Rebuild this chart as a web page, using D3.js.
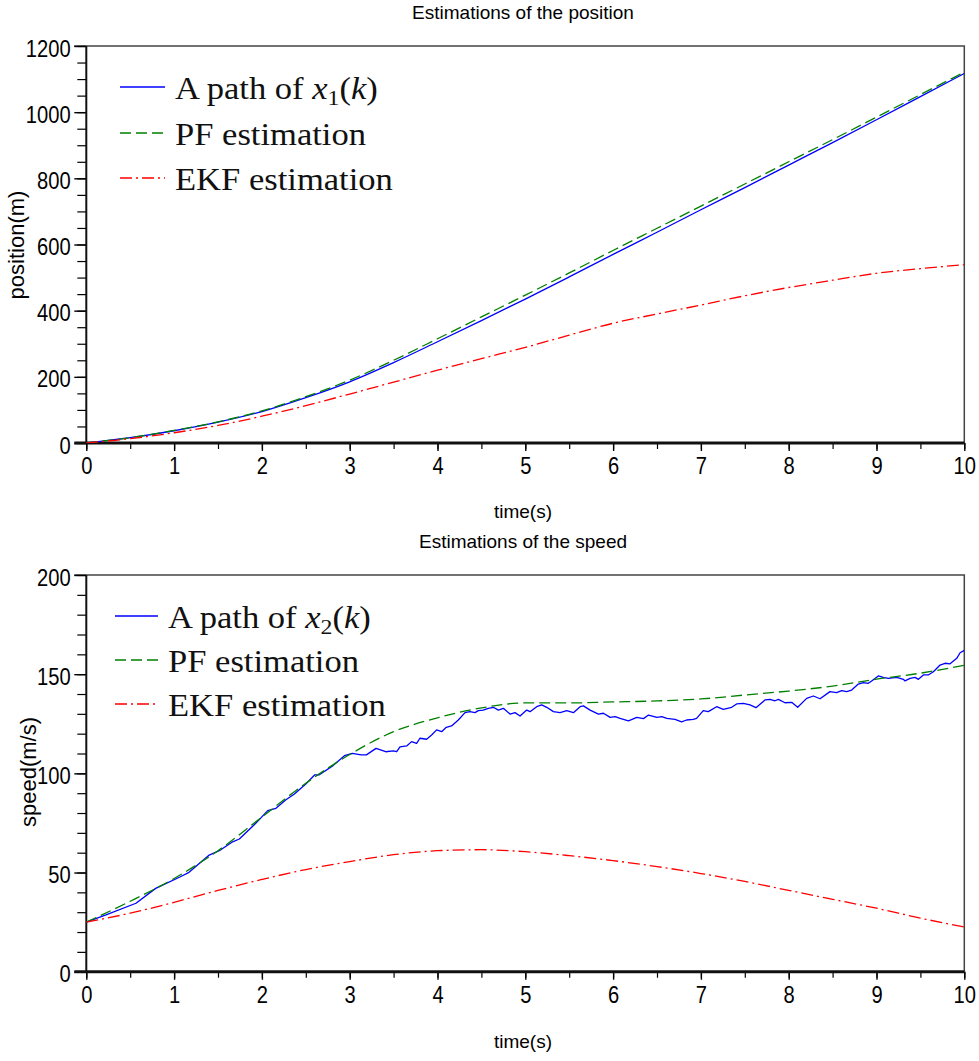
<!DOCTYPE html>
<html>
<head>
<meta charset="utf-8">
<script src="https://cdn.jsdelivr.net/npm/d3@7"></script>
<style>
  body { margin: 0; background: #fff; }
  svg { display: block; }
</style>
</head>
<body>
<svg id="chart" width="979" height="1061"></svg>
<script>
// ---- data ----
const timeGrid = [0, 0.5, 1, 1.5, 2, 2.5, 3, 3.5, 4, 4.5, 5, 5.5, 6, 6.5, 7, 7.5, 8, 8.5, 9, 9.5, 10];

// position (m)
const posPath = [0, 16, 37, 63, 95, 137, 185, 243, 306, 370, 435, 502, 570, 637, 705, 772, 840, 908, 977, 1047, 1117];
const posPF   = [0, 16, 38, 64, 97, 140, 190, 250, 315, 381, 447, 514, 582, 649, 716, 783, 850, 917, 985, 1053, 1121];
const posEKF  = [0, 13, 31, 53, 81, 113, 148, 184, 220, 255, 289, 326, 362, 390, 417, 445, 470, 492, 513, 527, 539];

// speed (m/s)
const speedPF  = [25, 35.5, 47, 61, 78, 95, 109.5, 121, 128, 133, 135.5, 135.5, 136, 136.5, 137.5, 139.5, 141.5, 144, 147.5, 150.5, 154.5];
const speedEKF = [25, 29.5, 35, 41, 46.5, 51.5, 55.5, 59, 61, 61.5, 60.5, 58.5, 56, 53, 49.5, 45.5, 41, 36.5, 32, 27, 22.5];

const speedPathT = [0, 0.224, 0.566, 0.79, 1.06, 1.17, 1.4, 1.515, 1.667, 1.743, 1.93, 2.066, 2.16, 2.27, 2.37, 2.5,
  2.6, 2.65, 2.81, 2.94, 3.03, 3.13, 3.19, 3.3, 3.41, 3.497, 3.535, 3.573, 3.649, 3.705, 3.762, 3.8, 3.876, 3.933,
  3.99, 4.047, 4.1, 4.16, 4.237, 4.313, 4.37, 4.427, 4.465, 4.52, 4.58, 4.636, 4.693, 4.75, 4.826, 4.883, 4.94,
  5.016, 5.054, 5.13, 5.187, 5.244, 5.32, 5.396, 5.472, 5.548, 5.624, 5.662, 5.738, 5.833, 5.89, 5.966, 6.023,
  6.08, 6.175, 6.27, 6.346, 6.403, 6.498, 6.555, 6.612, 6.705, 6.78, 6.837, 6.913, 6.951, 7.027, 7.084, 7.179,
  7.255, 7.35, 7.407, 7.483, 7.559, 7.627, 7.73, 7.787, 7.844, 7.882, 7.958, 8.034, 8.102, 8.205, 8.281, 8.357,
  8.47, 8.546, 8.603, 8.66, 8.717, 8.793, 8.85, 8.907, 8.945, 9.021, 9.078, 9.135, 9.23, 9.306, 9.325, 9.382,
  9.439, 9.477, 9.534, 9.59, 9.648, 9.724, 9.78, 9.838, 9.914, 9.952, 10];
const speedPathV = [25, 28.6, 34.5, 42, 47.6, 50.1, 58.8, 61, 65.5, 66.9, 74.8, 81.2, 82.4, 86.6, 89.6, 94.6,
  99.2, 99.2, 103.9, 108.9, 110.1, 109.3, 109.3, 112.6, 110.9, 111.3, 110.9, 113.4, 113.8, 116, 115.1, 117.7, 117.2, 119.3,
  121.9, 121, 123.2, 123.9, 126.9, 130.6, 131.1, 130.6, 131.6, 131.9, 132.8, 133.3, 131.9, 132.8, 129.9, 130.6, 128.9,
  131.9, 131.1, 133.6, 134.5, 133.3, 131.1, 130.6, 131.6, 130.6, 133.6, 134, 131.9, 129.9, 130.3, 128.2, 128.6,
  127.7, 126.5, 128.2, 127.6, 129.4, 128.2, 128.6, 127.7, 127.2, 126, 126.9, 127.2, 127.7, 131.6, 131.1, 133.6,
  132.3, 133.3, 135, 135.3, 134.5, 133.1, 137, 137.3, 136.6, 137.3, 135.6, 135.8, 133.3, 137.8, 139, 137.6,
  141.2, 140.7, 141.7, 141.2, 142, 145, 145.7, 145.4, 146.6, 149.1, 148.4, 147.9, 148.4, 147.4, 146.6, 147.9,
  148.4, 147.4, 149.6, 149.6, 151.2, 154.6, 155.5, 155.2, 158, 160.8, 162];

// tick labels
const timeTicks  = [0, 1, 2, 3, 4, 5, 6, 7, 8, 9, 10];
const posTicks   = [0, 200, 400, 600, 800, 1000, 1200];
const speedTicks = [0, 50, 100, 150, 200];

// ---- drawing ----
const svg = d3.select("#chart");
svg.append("rect").attr("width", 979).attr("height", 1061).attr("fill", "#fff");

const SANS = "'Liberation Sans', Arial, sans-serif";
const SERIF = "'Liberation Serif', 'Times New Roman', serif";
const TICK_SCALE = 0.84;

const styles = {
  path: { color: "#0000ff", dash: null, width: 1.3 },
  pf:   { color: "#008000", dash: "11,5", width: 1.3 },
  ekf:  { color: "#ff0000", dash: "12,4,2,4", width: 1.3 }
};

const x = d3.scaleLinear().domain([0, 10]).range([86.3, 964.3]);

function drawPanel(o) {
  const y = d3.scaleLinear().domain(o.domain).range([o.bottom, o.top]);
  const g = svg.append("g");
  const clipId = "clip" + o.id;
  svg.append("clipPath").attr("id", clipId)
    .append("rect").attr("x", x(0)).attr("y", o.top).attr("width", x(10) - x(0)).attr("height", o.bottom - o.top);

  // frame: top and right edges
  g.append("path")
    .attr("d", `M${x(0) - 12},${o.top}H${x(10)}V${o.bottom}`)
    .attr("fill", "none").attr("stroke", "#444").attr("stroke-width", 1.5);

  // minor ticks
  g.append("g").attr("transform", `translate(${x(0)},0)`)
    .call(d3.axisLeft(y).tickValues(d3.range(o.domain[0], o.domain[1] + 1e-9, o.minor)).tickSize(9).tickFormat("").tickSizeOuter(0))
    .call(s => s.select(".domain").remove())
    .selectAll("line").attr("stroke", "#000").attr("stroke-width", 1.2);
  g.append("g").attr("transform", `translate(0,${o.bottom})`)
    .call(d3.axisBottom(x).tickValues(d3.range(0, 10.001, 0.5)).tickSize(6).tickFormat("").tickSizeOuter(0))
    .call(s => s.select(".domain").remove())
    .selectAll("line").attr("stroke", "#000").attr("stroke-width", 1.2);

  // major ticks with labels
  const ya = g.append("g").attr("transform", `translate(${x(0)},0)`)
    .call(d3.axisLeft(y).tickValues(o.ticks).tickSize(12).tickSizeOuter(0).tickFormat(d3.format("d")));
  ya.select(".domain").remove();
  ya.selectAll("line").attr("stroke", "#000").attr("stroke-width", 1.4);
  ya.selectAll("text")
    .attr("font-family", SANS).attr("font-size", 24).attr("fill", "#000")
    .attr("x", -15.6 / TICK_SCALE).attr("dy", "0.42em")
    .attr("transform", `scale(${TICK_SCALE},1)`);

  const xa = g.append("g").attr("transform", `translate(0,${o.bottom})`)
    .call(d3.axisBottom(x).tickValues(timeTicks).tickSize(8).tickSizeOuter(0).tickFormat(d3.format("d")));
  xa.select(".domain").remove();
  xa.selectAll("line").attr("stroke", "#000").attr("stroke-width", 1.4);
  xa.selectAll("text")
    .attr("font-family", SANS).attr("font-size", 24).attr("fill", "#000")
    .attr("y", 31).attr("dy", 0)
    .attr("transform", `scale(${TICK_SCALE},1)`);

  // axis lines
  g.append("line").attr("x1", x(0)).attr("x2", x(0)).attr("y1", o.top).attr("y2", o.bottom)
    .attr("stroke", "#111").attr("stroke-width", 2);
  g.append("line").attr("x1", x(0) - 12).attr("x2", x(10)).attr("y1", o.bottom).attr("y2", o.bottom)
    .attr("stroke", "#111").attr("stroke-width", 3);

  // series
  const plot = g.append("g").attr("clip-path", `url(#${clipId})`);
  o.series.forEach(s => {
    const st = styles[s.key];
    const line = d3.line()
      .x(d => x(d[0])).y(d => y(d[1]))
      .curve(s.smooth ? d3.curveMonotoneX : d3.curveLinear);
    plot.append("path")
      .datum(s.t.map((t, i) => [t, s.v[i]]))
      .attr("d", line)
      .attr("fill", "none")
      .attr("stroke", st.color)
      .attr("stroke-width", st.width)
      .attr("stroke-dasharray", st.dash)
      .attr("stroke-linejoin", "round");
  });

  // legend
  o.legend.rows.forEach((row, i) => {
    const st = styles[row.key];
    const ly = o.legend.y[i];
    g.append("line")
      .attr("x1", o.legend.x0).attr("x2", o.legend.x1).attr("y1", ly).attr("y2", ly)
      .attr("stroke", st.color).attr("stroke-width", st.width).attr("stroke-dasharray", st.dash);
    const t = g.append("text")
      .attr("transform", `translate(${o.legend.tx},${ly + 12}) scale(1.08,1)`)
      .attr("font-family", SERIF).attr("font-size", 32).attr("fill", "#111");
    row.build(t);
  });

  // titles
  g.append("text").attr("x", 523).attr("y", o.titleY)
    .attr("text-anchor", "middle").attr("font-family", SANS).attr("font-size", 19).attr("fill", "#000")
    .text(o.title);
  g.append("text").attr("x", 523).attr("y", o.xLabelY)
    .attr("text-anchor", "middle").attr("font-family", SANS).attr("font-size", 19).attr("fill", "#000")
    .text("time(s)");
  g.append("text")
    .attr("transform", `translate(${o.yLabelX},${o.yLabelCy}) rotate(-90)`)
    .attr("text-anchor", "middle").attr("font-family", SANS).attr("font-size", 22).attr("fill", "#000")
    .text(o.yLabel);
}

function pathLabel(sub) {
  return t => {
    t.append("tspan").text("A path of ");
    t.append("tspan").attr("font-style", "italic").text("x");
    t.append("tspan").attr("font-size", 22).attr("dy", 6).text(sub);
    t.append("tspan").attr("dy", -6).text("(");
    t.append("tspan").attr("font-style", "italic").text("k");
    t.append("tspan").text(")");
  };
}
const plainLabel = s => t => t.text(s);

drawPanel({
  id: "pos",
  top: 46, bottom: 443,
  domain: [0, 1200], minor: 50, ticks: posTicks,
  title: "Estimations of the position", titleY: 19, xLabelY: 518,
  yLabel: "position(m)", yLabelX: 24, yLabelCy: 245,
  series: [
    { key: "path", t: timeGrid, v: posPath, smooth: true },
    { key: "pf", t: timeGrid, v: posPF, smooth: true },
    { key: "ekf", t: timeGrid, v: posEKF, smooth: true }
  ],
  legend: {
    x0: 120, x1: 165, tx: 175, y: [87, 133, 178],
    rows: [
      { key: "path", build: pathLabel("1") },
      { key: "pf", build: plainLabel("PF estimation") },
      { key: "ekf", build: plainLabel("EKF estimation") }
    ]
  }
});

drawPanel({
  id: "speed",
  top: 575, bottom: 971.7,
  domain: [0, 200], minor: 10, ticks: speedTicks,
  title: "Estimations of the speed", titleY: 548, xLabelY: 1048,
  yLabel: "speed(m/s)", yLabelX: 36, yLabelCy: 772,
  series: [
    { key: "path", t: speedPathT, v: speedPathV, smooth: false },
    { key: "pf", t: timeGrid, v: speedPF, smooth: true },
    { key: "ekf", t: timeGrid, v: speedEKF, smooth: true }
  ],
  legend: {
    x0: 115, x1: 158, tx: 168, y: [616, 660, 704],
    rows: [
      { key: "path", build: pathLabel("2") },
      { key: "pf", build: plainLabel("PF estimation") },
      { key: "ekf", build: plainLabel("EKF estimation") }
    ]
  }
});
</script>
</body>
</html>
